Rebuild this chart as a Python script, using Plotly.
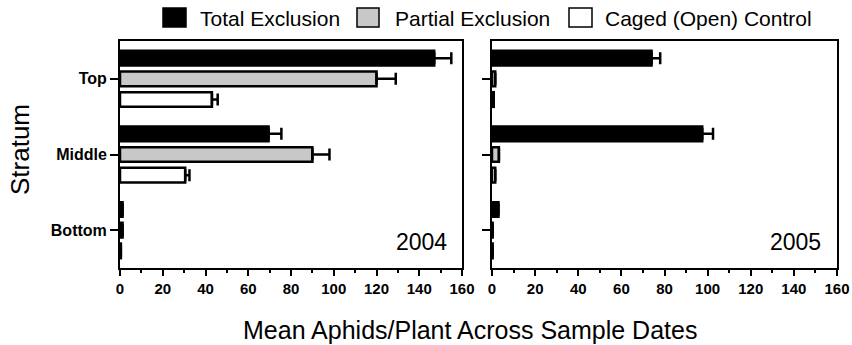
import plotly.graph_objects as go

strata = ["Top", "Middle", "Bottom"]
series = ["Total Exclusion", "Partial Exclusion", "Caged (Open) Control"]
fills = ["#000000", "#c8c8c8", "#ffffff"]

vals_2004 = {
    "Total Exclusion": [147, 69.5, 1.2],
    "Partial Exclusion": [120, 90, 1.2],
    "Caged (Open) Control": [43, 30.5, 0.4],
}
err_2004 = {
    "Total Exclusion": [8, 6, 0],
    "Partial Exclusion": [9, 8, 0],
    "Caged (Open) Control": [2.7, 2, 0],
}
vals_2005 = {
    "Total Exclusion": [74, 97.5, 3.0],
    "Partial Exclusion": [1.5, 3.2, 0.3],
    "Caged (Open) Control": [0.8, 1.5, 0.3],
}
err_2005 = {
    "Total Exclusion": [4, 5, 0],
    "Partial Exclusion": [0, 0, 0],
    "Caged (Open) Control": [0, 0, 0],
}
x_ticks = [0, 20, 40, 60, 80, 100, 120, 140, 160]
years = ["2004", "2005"]

FONT = "Liberation Sans, Arial, sans-serif"
W, H = 852, 345
fig = go.Figure()

for (vals, errs, xa, ya) in [(vals_2004, err_2004, "x", "y"), (vals_2005, err_2005, "x2", "y2")]:
    for s, c in zip(series, fills):
        fig.add_trace(go.Bar(
            y=strata, x=vals[s], orientation="h", name=s,
            marker=dict(color=c, line=dict(color="black", width=2.5)),
            error_x=dict(type="data", array=errs[s], symmetric=False,
                         arrayminus=[0] * 3, color="black", thickness=2.5, width=6),
            xaxis=xa, yaxis=ya, showlegend=False,
        ))

xcommon = dict(range=[0, 160], tickvals=x_ticks, ticks="outside", ticklen=6, tickwidth=2,
               tickcolor="black", showline=True, linecolor="black", linewidth=2, mirror=True,
               showgrid=False, zeroline=False, automargin=False,
               tickfont=dict(family=FONT, size=15, color="black", weight="bold"),
               minor=dict(ticks="outside", ticklen=3, tickwidth=1.5, tickcolor="black", dtick=10))
ycommon = dict(type="category", categoryorder="array", categoryarray=strata,
               autorange="reversed", ticks="outside", ticklen=8, tickwidth=2, tickcolor="black",
               showline=True, linecolor="black", linewidth=2, mirror=True, showgrid=False,
               automargin=False,
               tickfont=dict(family=FONT, size=16, color="black", weight="bold"))

# manual legend (keys + labels), paper coordinates
legend_keys = [(163, 186), (357, 379), (569, 592)]
legend_text_x = [198, 393, 603]
shapes = []
annotations = []
for (x0, x1), tx, s, c in zip(legend_keys, legend_text_x, series, fills):
    shapes.append(dict(type="rect", xref="paper", yref="paper",
                       x0=x0 / W, x1=x1 / W, y0=1 - 27 / H, y1=1 - 8 / H,
                       fillcolor=c, line=dict(color="black", width=1.5)))
    annotations.append(dict(text=s, x=tx / W, y=1 - 18 / H, xref="paper", yref="paper",
                            xanchor="left", yanchor="middle", showarrow=False,
                            font=dict(family=FONT, size=21, color="black")))

annotations += [
    dict(text=years[0], x=449 / W, y=1 - 242 / H, xref="paper", yref="paper", xanchor="right",
         yanchor="middle", showarrow=False, font=dict(family=FONT, size=23, color="black")),
    dict(text=years[1], x=823 / W, y=1 - 242 / H, xref="paper", yref="paper", xanchor="right",
         yanchor="middle", showarrow=False, font=dict(family=FONT, size=23, color="black")),
    dict(text="Stratum", x=20 / W, y=1 - 150 / H, xref="paper", yref="paper", textangle=-90,
         xanchor="center", yanchor="middle",
         showarrow=False, font=dict(family=FONT, size=26, color="black")),
    dict(text="Mean Aphids/Plant Across Sample Dates", x=470 / W, y=1 - 330 / H, xref="paper",
         yref="paper", xanchor="center", yanchor="middle",
         showarrow=False, font=dict(family=FONT, size=25, color="black")),
]

fig.update_layout(
    width=W, height=H,
    margin=dict(l=0, r=0, t=0, b=0),
    paper_bgcolor="white", plot_bgcolor="white",
    barmode="group", bargap=0.18, bargroupgap=0.29,
    font=dict(family=FONT, color="black"),
    showlegend=False,
    xaxis=dict(domain=[120 / W, 462 / W], anchor="y", **xcommon),
    yaxis=dict(domain=[1 - 268 / H, 1 - 41 / H], anchor="x", **ycommon),
    xaxis2=dict(domain=[492 / W, 837 / W], anchor="y2", **xcommon),
    yaxis2=dict(domain=[1 - 268 / H, 1 - 41 / H], anchor="x2", showticklabels=False, **ycommon),
    shapes=shapes,
    annotations=annotations,
)

fig.write_html("out.html", config={"displayModeBar": False},
               post_script="document.body.style.margin='0px';")
